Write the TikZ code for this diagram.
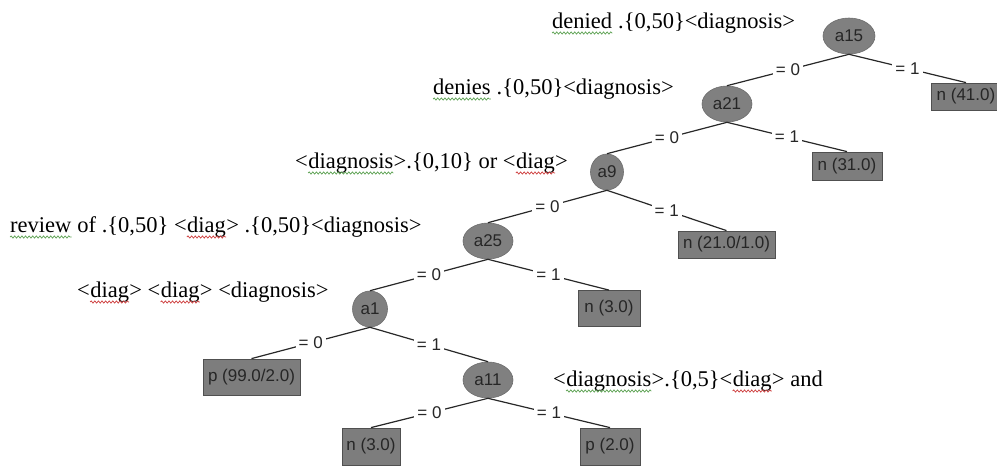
\documentclass[tikz,border=0pt]{standalone}
\usepackage{fontspec}
\setmainfont{Liberation Serif}
\newfontfamily\sansf{Liberation Sans}
\usetikzlibrary{shapes.geometric,calc,decorations.pathmorphing}
\definecolor{nodegray}{RGB}{128,128,128}
\definecolor{leafgray}{RGB}{125,125,125}
\definecolor{leafedge}{RGB}{80,80,80}
\definecolor{edgecol}{RGB}{40,40,40}
\definecolor{sqgreen}{RGB}{90,160,80}
\definecolor{sqred}{RGB}{205,60,60}
\begin{document}
\begin{tikzpicture}[x=1pt,y=-1pt,
  split/.style={ellipse, fill=nodegray, draw=nodegray!85!black, line width=0.6pt,
    minimum height=36pt, inner sep=0pt, font=\sansf\fontsize{17}{20}\selectfont, text=black!85},
  leafbox/.style={rectangle, fill=leafgray, draw=leafedge, line width=0.8pt, inner sep=0pt,
    font=\sansf\fontsize{17}{20}\selectfont, text=black!85},
  link/.style={draw=edgecol, line width=1.2pt},
  elab/.style={fill=white, inner xsep=3pt, inner ysep=1.5pt, font=\sansf\fontsize{17}{20}\selectfont, text=black!85},
  ruletext/.style={anchor=base west, inner sep=0pt, font=\fontsize{22.5}{27}\selectfont},
  squig/.style={line width=0.7pt, decorate, decoration={snake, amplitude=1.1pt, segment length=3.6pt}},
  sqg/.style={squig, draw=sqgreen},
  sqr/.style={squig, draw=sqred}
]
\useasboundingbox (0,0) rectangle (997,466);

% inner nodes
\node[split, minimum width=52pt] (a15) at (849,36) {a15};
\node[split, minimum width=50pt] (a21) at (727,104) {a21};
\node[split, minimum width=33pt] (a9) at (607,172) {a9};
\node[split, minimum width=50pt] (a25) at (488,241) {a25};
\node[split, minimum width=35pt] (a1) at (370,309) {a1};
\node[split, minimum width=50pt] (a11) at (488,380) {a11};

% leaves
\node[leafbox, minimum width=70pt, minimum height=27pt] (l41) at (966,96.5) {n (41.0)};
\node[leafbox, minimum width=70pt, minimum height=28pt] (l31) at (847,166) {n (31.0)};
\node[leafbox, minimum width=97pt, minimum height=27pt] (l21) at (726.5,244.5) {n (21.0/1.0)};
\node[leafbox, minimum width=62pt, minimum height=36pt] (l3a) at (609,308.5) {n (3.0)};
\node[leafbox, minimum width=97pt, minimum height=36pt] (p99) at (251.5,377) {p (99.0/2.0)};
\node[leafbox, minimum width=58pt, minimum height=37pt] (l3b) at (371,446.5) {n (3.0)};
\node[leafbox, minimum width=60pt, minimum height=37pt] (p2) at (610,446.5) {p (2.0)};

% edges
\draw[link] (a15.south) -- node[elab] {= 0} (a21.north);
\draw[link] (a15.south) -- node[elab] {= 1} (l41.north);
\draw[link] (a21.south) -- node[elab] {= 0} (a9.north);
\draw[link] (a21.south) -- node[elab] {= 1} (l31.north);
\draw[link] (a9.south) -- node[elab] {= 0} (a25.north);
\draw[link] (a9.south) -- node[elab] {= 1} (l21.north);
\draw[link] (a25.south) -- node[elab] {= 0} (a1.north);
\draw[link] (a25.south) -- node[elab] {= 1} (l3a.north);
\draw[link] (a1.south) -- node[elab] {= 0} (p99.north);
\draw[link] (a1.south) -- node[elab] {= 1} (a11.north);
\draw[link] (a11.south) -- node[elab] {= 0} (l3b.north);
\draw[link] (a11.south) -- node[elab] {= 1} (p2.north);

% rule texts
\node[ruletext] (r1a) at (552,28) {denied};
\node[ruletext] (r1b) at (r1a.base east) {\ .\{0,50\}<diagnosis>};

\node[ruletext] (r2a) at (433,94) {denies};
\node[ruletext] (r2b) at (r2a.base east) {\ .\{0,50\}<diagnosis>};

\node[ruletext] (r3a) at (295,168) {<};
\node[ruletext] (r3b) at (r3a.base east) {diagnosis};
\node[ruletext] (r3c) at (r3b.base east) {>.\{0,10\} or <};
\node[ruletext] (r3d) at (r3c.base east) {diag};
\node[ruletext] (r3e) at (r3d.base east) {>};

\node[ruletext] (r4a) at (10,232) {review};
\node[ruletext] (r4b) at (r4a.base east) {\ of .\{0,50\} <};
\node[ruletext] (r4c) at (r4b.base east) {diag};
\node[ruletext] (r4d) at (r4c.base east) {> .\{0,50\}<diagnosis>};

\node[ruletext] (r5a) at (77,297) {<};
\node[ruletext] (r5b) at (r5a.base east) {diag};
\node[ruletext] (r5c) at (r5b.base east) {> <};
\node[ruletext] (r5d) at (r5c.base east) {diag};
\node[ruletext] (r5e) at (r5d.base east) {> <diagnosis>};

\node[ruletext] (r6a) at (553,386) {<};
\node[ruletext] (r6b) at (r6a.base east) {diagnosis};
\node[ruletext] (r6c) at (r6b.base east) {>.\{0,5\}<};
\node[ruletext] (r6d) at (r6c.base east) {diag};
\node[ruletext] (r6e) at (r6d.base east) {> and};

% spell-check squiggles
\foreach \w in {r1a,r2a,r3b,r4a,r6b}
  \draw[sqg] ($(\w.base west)+(0,5)$) -- ($(\w.base east)+(0,5)$);
\foreach \w in {r3d,r4c,r5b,r5d,r6d}
  \draw[sqr] ($(\w.base west)+(0,5)$) -- ($(\w.base east)+(0,5)$);
\end{tikzpicture}
\end{document}
